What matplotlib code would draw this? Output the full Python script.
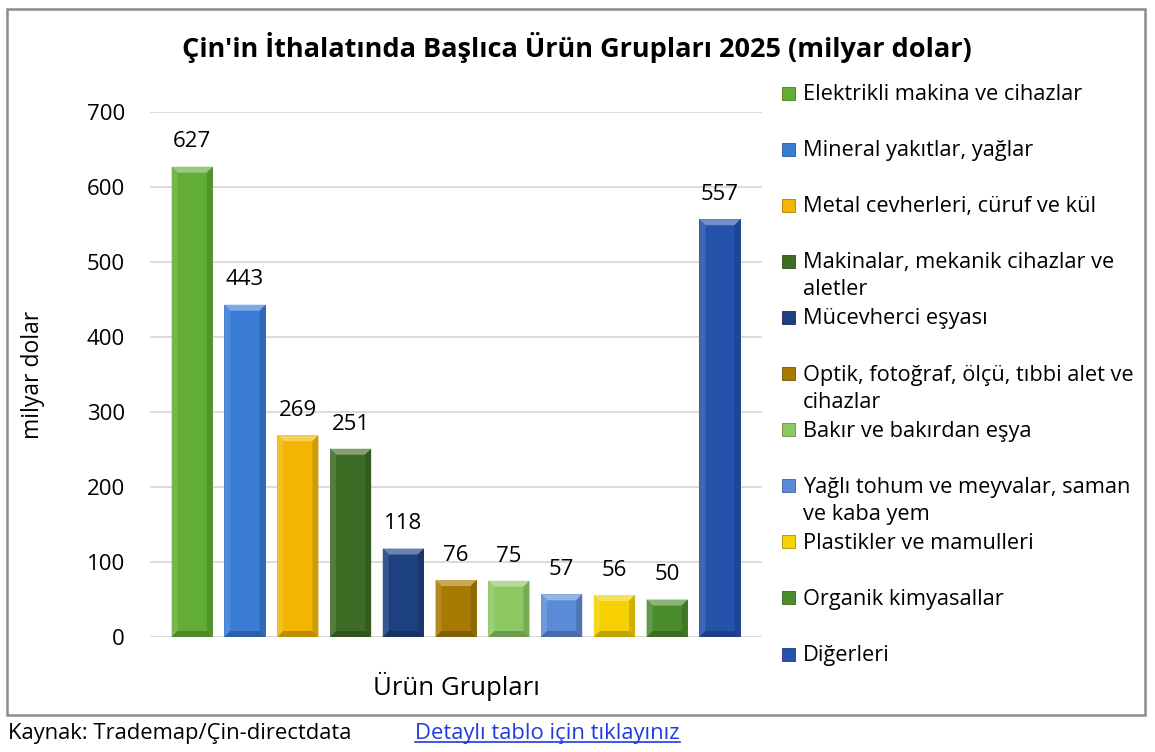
import numpy as np
import matplotlib
matplotlib.use("Agg")
from matplotlib import pyplot as plt
from matplotlib.patches import Rectangle, Polygon
from matplotlib.lines import Line2D
from matplotlib.colors import to_rgb

plt.rcParams['font.family'] = ['Open Sans', 'DejaVu Sans']

# data (milyar dolar)
groups = [
    "Elektrikli makina ve cihazlar",
    "Mineral yakıtlar, yağlar",
    "Metal cevherleri, cüruf ve kül",
    "Makinalar, mekanik cihazlar ve\naletler",
    "Mücevherci eşyası",
    "Optik, fotoğraf, ölçü, tıbbi alet ve\ncihazlar",
    "Bakır ve bakırdan eşya",
    "Yağlı tohum ve meyvalar, saman\nve kaba yem",
    "Plastikler ve mamulleri",
    "Organik kimyasallar",
    "Diğerleri",
]
values = [627, 443, 269, 251, 118, 76, 75, 57, 56, 50, 557]
colors = ["#62ad35", "#3a7bd6", "#f2b600", "#3d6c25", "#1d4080", "#a77a02",
          "#8cc862", "#5a8bd8", "#f6d000", "#4b8d2e", "#2552aa"]
yticks = [0, 100, 200, 300, 400, 500, 600, 700]


def shade(c, f):
    r, g, b = to_rgb(c)
    if f > 0:
        return (r + (1 - r) * f, g + (1 - g) * f, b + (1 - b) * f)
    return (r * (1 + f), g * (1 + f), b * (1 + f))


fig = plt.figure(figsize=(11.55, 7.52), dpi=100)
ax = fig.add_axes([0.1299, 0.1529, 0.53, 0.6982])

x = np.arange(len(values))
bars = ax.bar(x, values, width=0.78, color=colors, zorder=2)
ax.set_xlim(-0.8, 10.8)
ax.set_ylim(0, 700)
ax.set_yticks(yticks)
ax.tick_params(axis='y', length=0, labelsize=16, pad=18)
ax.set_xticks([])
for s in ax.spines.values():
    s.set_visible(False)
ax.grid(axis='y', color='#d9d9d9', linewidth=1.3, zorder=0)
ax.set_axisbelow(True)

# bevel effect on each bar
fig.canvas.draw()
p0 = ax.transData.transform((0, 0))
p1 = ax.transData.transform((1, 100))
dx = 6 / (p1[0] - p0[0])
dy = 6 / ((p1[1] - p0[1]) / 100)
for b, c in zip(bars, colors):
    x0, y0 = b.get_x(), b.get_y()
    x1, y1 = x0 + b.get_width(), y0 + b.get_height()
    top = [(x0, y1), (x1, y1), (x1 - dx, y1 - dy), (x0 + dx, y1 - dy)]
    left = [(x0, y0), (x0 + dx, y0 + dy), (x0 + dx, y1 - dy), (x0, y1)]
    right = [(x1, y0), (x1 - dx, y0 + dy), (x1 - dx, y1 - dy), (x1, y1)]
    bottom = [(x0, y0), (x1, y0), (x1 - dx, y0 + dy), (x0 + dx, y0 + dy)]
    ax.add_patch(Polygon(top, closed=True, color=shade(c, 0.35), lw=0, zorder=3))
    ax.add_patch(Polygon(left, closed=True, color=shade(c, 0.12), lw=0, zorder=3))
    ax.add_patch(Polygon(right, closed=True, color=shade(c, -0.15), lw=0, zorder=3))
    ax.add_patch(Polygon(bottom, closed=True, color=shade(c, -0.22), lw=0, zorder=3))
    ax.text(b.get_x() + b.get_width() / 2, y1 + 33, f"{int(b.get_height())}",
            ha='center', va='center', fontsize=16)

ax.set_ylabel("milyar dolar", fontsize=16.5)
ax.yaxis.set_label_coords(-0.172, 0.5)
ax.set_xlabel("Ürün Grupları", fontsize=18.5)
ax.xaxis.set_label_coords(0.5, -0.066)

fig.text(0.4995, 0.937, "Çin'in İthalatında Başlıca Ürün Grupları 2025 (milyar dolar)",
         ha='center', va='center', fontsize=19.5, fontweight='bold')

# legend drawn by hand
for i, (g, c) in enumerate(zip(groups, colors)):
    yc = 1 - (93 + i * 56.1) / 752
    fig.patches.append(Rectangle((782 / 1155, yc - 6.5 / 752), 13 / 1155, 13 / 752,
                                 transform=fig.transFigure, facecolor=c,
                                 edgecolor=shade(c, -0.3), lw=0.6))
    fig.text(803 / 1155, yc + 9 / 752, g, ha='left', va='top', fontsize=15.7,
             linespacing=1.38)

# outer frame
fig.patches.append(Rectangle((7 / 1155, 1 - 715 / 752), 1138 / 1155, 706 / 752,
                             transform=fig.transFigure, fill=False,
                             edgecolor='#8c8c8c', lw=1.8))

fig.text(8 / 1155, 1 - 733 / 752, "Kaynak: Trademap/Çin-directdata",
         ha='left', va='center', fontsize=15.8)
link = fig.text(415 / 1155, 1 - 733 / 752, "Detaylı tablo için tıklayınız",
                ha='left', va='center', fontsize=15.8, color='#1f3ce0')
fig.canvas.draw()
bb = link.get_window_extent().transformed(fig.transFigure.inverted())
fig.add_artist(Line2D([bb.x0, bb.x1], [bb.y0 + 0.002, bb.y0 + 0.002],
                      transform=fig.transFigure, color='#1f3ce0', lw=1.2))

fig.savefig("out.png", dpi=100)
